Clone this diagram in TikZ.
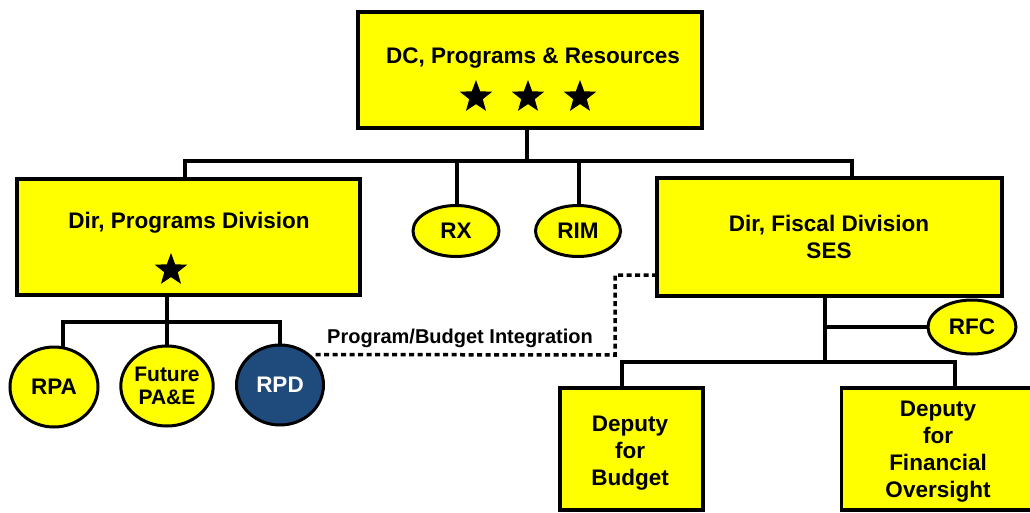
\documentclass[tikz,border=0pt]{standalone}
\usepackage{fontspec}
\setmainfont{Liberation Sans}
\usetikzlibrary{shapes.geometric,calc}
\definecolor{boxyellow}{HTML}{FFFF00}
\definecolor{rpdblue}{HTML}{1F4A7C}
\tikzset{
  orgbox/.style={draw=black, line width=3.5pt, fill=boxyellow, rectangle, inner sep=0pt},
  oval/.style={draw=black, line width=3pt, fill=boxyellow, ellipse, inner sep=0pt, font=\bfseries\fontsize{22.5}{25}\selectfont},
  lbl/.style={font=\bfseries\fontsize{22.5}{27}\selectfont, align=center, inner sep=0pt},
  conn/.style={line width=3.5pt, draw=black},
  starmark/.style={star, star points=5, star point ratio=2.4, fill=black, inner sep=0pt, minimum size=34pt},
  dotline/.style={line width=3.5pt, dash pattern=on 5pt off 3.5pt}
}
\begin{document}
\begin{tikzpicture}[x=1pt,y=-1pt]
\useasboundingbox (0,0) rectangle (1030,512);
\clip (0,0) rectangle (1030,512);
% boxes
\node[orgbox, minimum width=344pt, minimum height=116pt] (top) at (530,70) {};
\node[lbl] (toptext) at (533,58) {DC, Programs \& Resources};
\node[starmark] (s1) at (476,97) {};
\node[starmark] (s2) at (528,97) {};
\node[starmark] (s3) at (580,97) {};

\node[orgbox, minimum width=343pt, minimum height=116pt] (prog) at (188.5,237) {};
\node[lbl] (progtext) at (189,223) {Dir, Programs Division};
\node[starmark] (s4) at (171,270) {};

\node[orgbox, minimum width=345pt, minimum height=118pt] (fisc) at (829.5,237) {};
\node[lbl] (fisctext) at (829,237) {Dir, Fiscal Division\\SES};

\node[oval, minimum width=86pt, minimum height=51pt] (rx) at (456,231) {RX};
\node[oval, minimum width=85pt, minimum height=51pt] (rim) at (578,231) {RIM};
\node[oval, minimum width=88pt, minimum height=54pt] (rfc) at (972,327) {RFC};

\node[oval, minimum width=88pt, minimum height=80pt] (rpa) at (54,387) {RPA};
\node[oval, minimum width=87pt, minimum height=80pt, font=\bfseries\fontsize{21}{23}\selectfont, align=center] (fut) at (167,386) {Future\\PA\&E};
\node[oval, fill=rpdblue, minimum width=87pt, minimum height=80pt, text=white] (rpd) at (280,385) {RPD};

\node[orgbox, minimum width=143pt, minimum height=122pt] (bud) at (631.5,449) {};
\node[lbl] (budtext) at (630,453) {Deputy\\for\\Budget};
\node[orgbox, minimum width=195pt, minimum height=122pt] (ovs) at (939,449) {};
\node[lbl] (ovstext) at (938,452) {Deputy\\for\\Financial\\Oversight};

% top bus
\coordinate (tbus) at (527,161);
\draw[conn] (527,128) -- (tbus);
\draw[conn] (prog.north -| 185,0) -- (185,161) -- (852,161) -- (fisc.north -| 852,0);
\draw[conn] (457,161) -- (rx.north -| 457,0);
\draw[conn] (579,161) -- (rim.north -| 579,0);

% programs bus
\draw[conn] (167,295) -- (167,322);
\draw[conn] (rpa.north -| 63,0) ++(0,2) -- (63,322) -- (280,322) -- (rpd.north);
\draw[conn] (167,322) -- (fut.north);

% fiscal bus
\draw[conn] (825,296) -- (825,362);
\draw[conn] (rfc.west -| 825,0) -- (rfc.west);
\draw[conn] (bud.north -| 622,0) -- (622,362) -- (955,362) -- (ovs.north -| 955,0);

% dotted integration link
\coordinate (b1) at (615,355);
\coordinate (b2) at (615,275);
\draw[dotline] ($(rpd.45)+(5,0)$) -- (b1) -- (b2) -- (fisc.west |- b2);
\node[font=\bfseries\fontsize{20}{22}\selectfont, inner sep=0pt] (integ) at (460,338) {Program/Budget Integration};
\end{tikzpicture}
\end{document}
